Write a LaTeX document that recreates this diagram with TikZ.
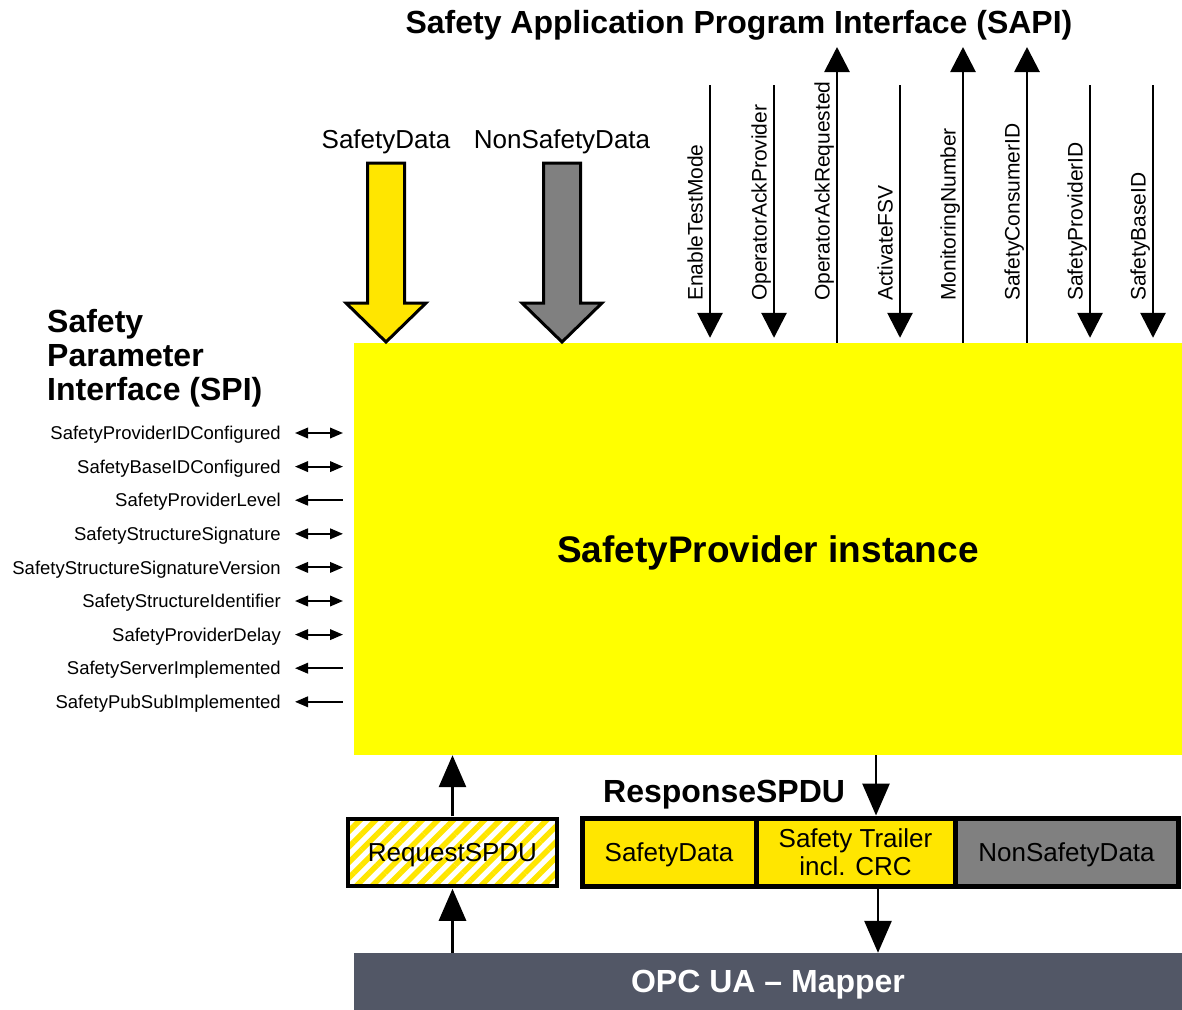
\documentclass[tikz,border=0pt]{standalone}
\usepackage{fontspec}
\setmainfont{Liberation Sans}
\usetikzlibrary{arrows.meta,patterns.meta,positioning}
\definecolor{spyellow}{HTML}{FFFF00}
\definecolor{datayellow}{HTML}{FFE600}
\definecolor{datagray}{HTML}{808080}
\definecolor{mapgray}{HTML}{525766}

\begin{document}
\begin{tikzpicture}[x=1pt,y=-1pt,>={Triangle[length=25pt,width=25pt]},
  sig/.style={line width=2.8pt},
  bigtip/.style={-{Triangle[length=32pt,width=27pt]}},
  spiboth/.style={line width=2pt,{Triangle[length=13pt,width=10.5pt]}-{Triangle[length=13pt,width=10.5pt]}},
  spiin/.style={line width=2pt,{Triangle[length=13pt,width=10.5pt]}-},
  vlabel/.style={rotate=90,anchor=base west,inner sep=0pt,font=\fontsize{21}{25}\selectfont},
  spilabel/.style={anchor=east,inner sep=0pt,text depth=0pt,font=\fontsize{18.5}{22}\selectfont},
  headline/.style={inner sep=0pt,text depth=0pt,font=\fontsize{32}{34}\selectfont\bfseries},
  datalabel/.style={inner sep=0pt,text depth=0pt,font=\fontsize{26}{28}\selectfont},
  cell/.style={draw,line width=5pt,minimum height=68pt,inner sep=0pt,align=center,font=\fontsize{26}{28}\selectfont},
  blockarrow/.style={draw,line width=3pt,line join=miter}]
\useasboundingbox (0,0) rectangle (1182,1009);

\node[fill=spyellow,minimum width=828pt,minimum height=412pt,inner sep=0pt,text depth=0pt,font=\fontsize{37}{40}\selectfont\bfseries] (prov) at (768,549) {SafetyProvider instance};

\node[headline] (sapi) at (739,22) {Safety Application Program Interface (SAPI)};
\node[inner sep=0pt,anchor=north west,align=left,font=\fontsize{32}{34}\selectfont\bfseries] (spi) at (47,309) {Safety\\Parameter\\Interface (SPI)};

\node[datalabel] (sdlbl) at (386,139) {SafetyData};
\node[datalabel] (nsdlbl) at (562,139) {NonSafetyData};
\coordinate (sdin) at (386,163);
\coordinate (nsdin) at (562,163);
\draw[blockarrow,fill=datayellow] (sdin) ++(-18.5,0) -- ++(37,0) -- ++(0,140) -- ++(21.5,0) -- ++(-40,39) -- ++(-40,-39) -- ++(21.5,0) -- cycle;
\draw[blockarrow,fill=datagray] (nsdin) ++(-18.5,0) -- ++(37,0) -- ++(0,140) -- ++(21.5,0) -- ++(-40,39) -- ++(-40,-39) -- ++(21.5,0) -- cycle;

\foreach \x/\txt in {710/EnableTestMode,774/OperatorAckProvider,900/ActivateFSV,1090/SafetyProviderID,1153/SafetyBaseID}{
  \coordinate (in-\txt) at (\x,85);
  \node[vlabel] (lbl-\txt) at (\x-7.5,301) {\txt};
  \draw[sig,->,shorten >=5pt] (in-\txt) -- (in-\txt |- prov.north);
}
\foreach \x/\txt in {837/OperatorAckRequested,963/MonitoringNumber,1027/SafetyConsumerID}{
  \coordinate (out-\txt) at (\x,47);
  \node[vlabel] (lbl-\txt) at (\x-7.5,301) {\txt};
  \draw[sig,->] (out-\txt |- prov.north) -- (out-\txt);
}

\foreach \txt/\tip [count=\i, evaluate=\i as \y using 399.4+33.6*\i] in {SafetyProviderIDConfigured/spiboth,SafetyBaseIDConfigured/spiboth,SafetyProviderLevel/spiin,SafetyStructureSignature/spiboth,SafetyStructureSignatureVersion/spiboth,SafetyStructureIdentifier/spiboth,SafetyProviderDelay/spiboth,SafetyServerImplemented/spiin,SafetyPubSubImplemented/spiin}{
  \node[spilabel] (spi\i) at (281,\y) {\txt};
  \coordinate (spia\i) at (295,\y);
  \coordinate (spib\i) at (343,\y);
  \draw[\tip] (spia\i) -- (spib\i);
}

\node[draw,line width=4pt,minimum width=209pt,minimum height=67pt,inner sep=0pt,text depth=0pt,preaction={fill=white},pattern={Lines[angle=45,distance=11pt,line width=5.5pt]},pattern color=datayellow,font=\fontsize{26}{28}\selectfont] (req) at (452.5,852.5) {RequestSPDU};

\node[headline,anchor=west] (resp) at (603,791) {ResponseSPDU};
\node[cell,fill=datayellow,minimum width=174pt,text depth=0pt] (rsd) at (669,852) {SafetyData};
\node[cell,fill=datayellow,minimum width=199pt] (rtr) at (855.5,852) {Safety Trailer\\incl. CRC};
\node[cell,fill=datagray,minimum width=223pt,text depth=0pt] (rnsd) at (1066.5,852) {NonSafetyData};

\node[fill=mapgray,minimum width=828pt,minimum height=57pt,headline,text=white] (mapper) at (768,981.5) {OPC UA – Mapper};

\coordinate (rspin) at (876,0);
\coordinate (rspout) at (878,0);
\draw[sig,bigtip] (req.north) -- (req.north |- prov.south);
\draw[sig,bigtip] (req.south |- mapper.north) -- (req.south);
\draw[sig,bigtip] (rspin |- prov.south) -- (rspin |- rtr.north);
\draw[sig,bigtip] (rspout |- rtr.south) -- (rspout |- mapper.north);
\end{tikzpicture}
\end{document}
